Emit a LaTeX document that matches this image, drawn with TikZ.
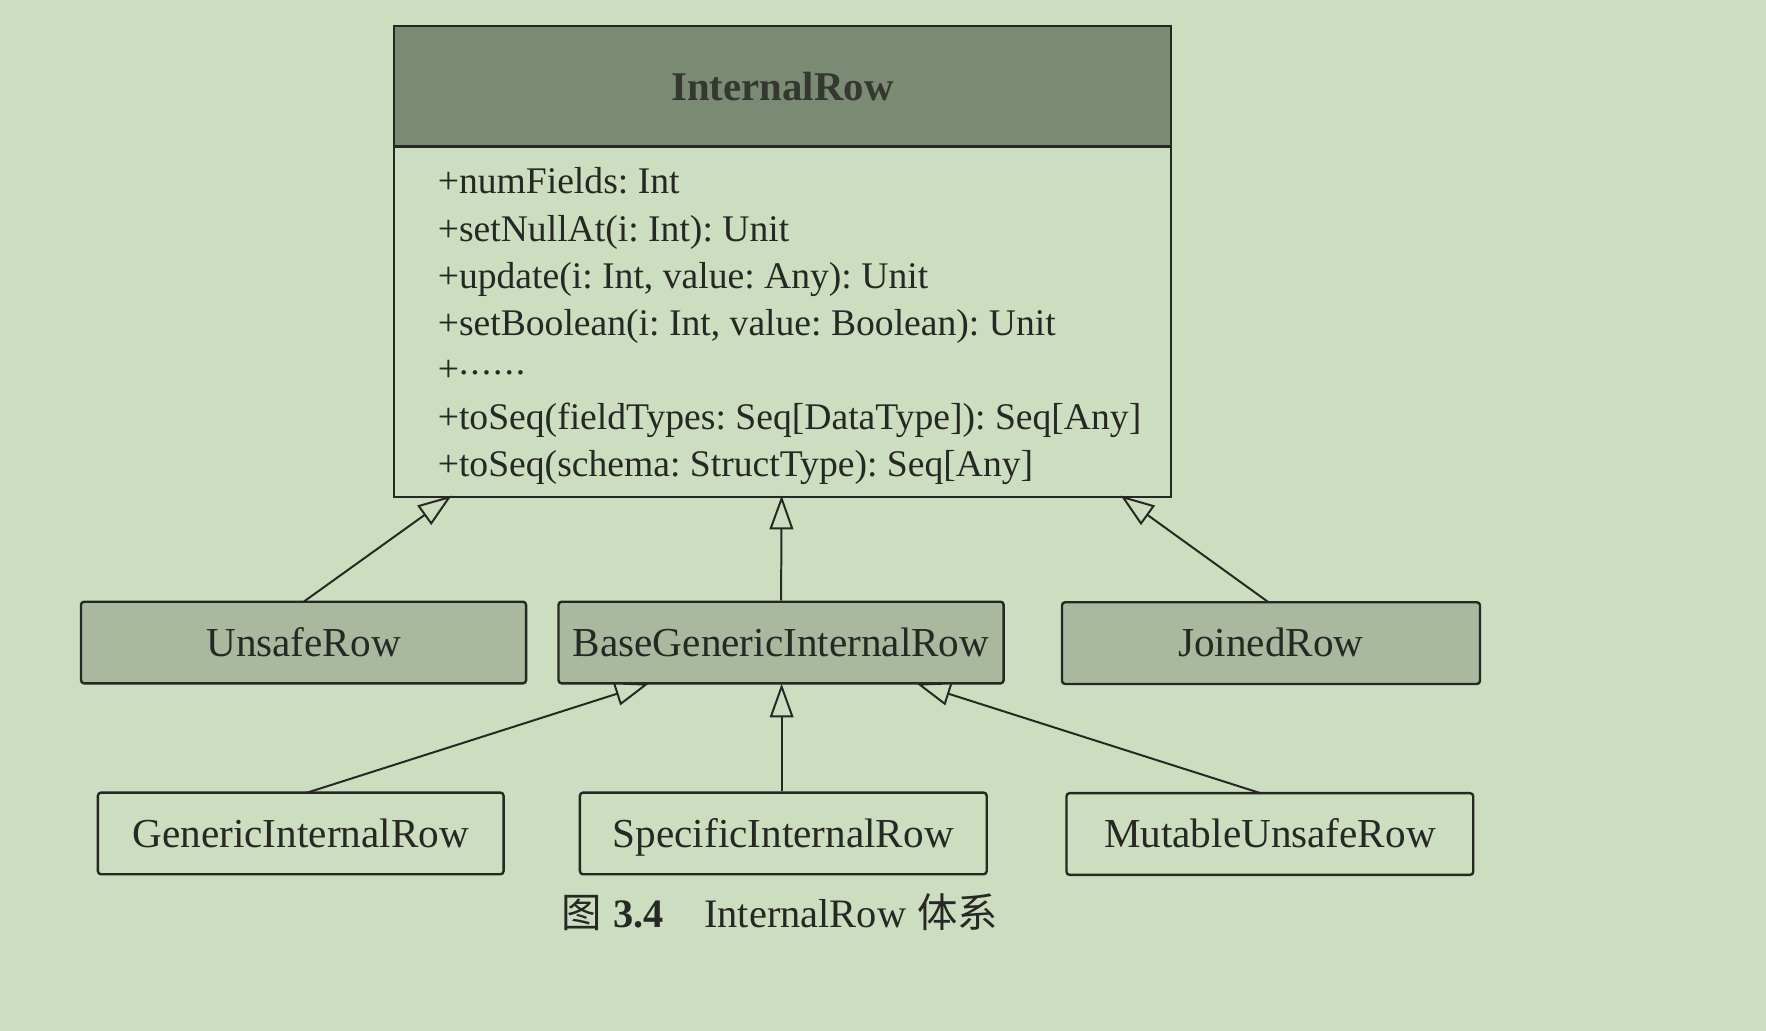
\documentclass[tikz,border=0pt]{standalone}
\usepackage{fontspec}
\setmainfont{Liberation Serif}
\newfontfamily\cjk{Noto Sans CJK SC}
\usetikzlibrary{arrows.meta}
\frenchspacing
\definecolor{bg}{RGB}{205,221,192}
\definecolor{hdrfill}{RGB}{123,138,114}
\definecolor{midfill}{RGB}{170,185,158}
\definecolor{ink}{RGB}{38,40,36}
\definecolor{hdrink}{RGB}{52,56,48}
\newcommand{\mydots}{\raisebox{1.9pt}{.\kern0.5pt.\kern0.5pt.\kern0.5pt.\kern0.5pt.\kern0.5pt.}}
\tikzset{
  cls/.style={draw=ink, line width=0.6pt, rounded corners=0.8pt, inner sep=0pt,
    text=ink, font=\fontsize{10.4}{12}\selectfont, minimum height=0.725cm,
    text height=7pt, text depth=0pt},
  darkcls/.style={cls, fill=midfill},
  lightcls/.style={cls, fill=bg},
  member/.style={anchor=base west, inner sep=0pt, text=ink, font=\fontsize{9.5}{11}\selectfont},
  inh/.style={draw=ink, line width=0.5pt, -{Triangle[length=0.3cm, width=0.21cm, fill=bg, line width=0.5pt]}}
}
\begin{document}
\begin{tikzpicture}[x=0.01cm, y=-0.01cm]
\fill[bg] (0,0) rectangle (1568,915);
\useasboundingbox (0,0) rectangle (1568,915);

% main class box
\node[draw=ink, line width=0.6pt, fill=bg, minimum width=6.89cm, minimum height=4.18cm,
      inner sep=0pt, anchor=north west] (main) at (349,22) {};
\node[draw=ink, line width=0.6pt, fill=hdrfill, minimum width=6.89cm, minimum height=1.07cm,
      inner sep=0pt, anchor=north west, text=hdrink, font=\fontsize{10.3}{12}\selectfont\bfseries]
      (hdr) at (349,22) {InternalRow};

\node[member] (m1) at (388,172) {+numFields: Int};
\node[member] (m2) at (388,214) {+setNullAt(i: Int): Unit};
\node[member] (m3) at (388,256) {+update(i: Int, value: Any): Unit};
\node[member] (m4) at (388,298) {+setBoolean(i: Int, value: Boolean): Unit};
\node[member] (m5) at (388,339) {+\mydots};
\node[member] (m6) at (388,381) {+toSeq(fieldTypes: Seq[DataType]): Seq[Any]};
\node[member] (m7) at (388,423) {+toSeq(schema: StructType): Seq[Any]};

% second level
\node[darkcls, minimum width=3.95cm] (U) at (269.5,570.5) {UnsafeRow};
\node[darkcls, minimum width=3.95cm] (B) at (693.5,570.5) {BaseGenericInternalRow};
\node[darkcls, minimum width=3.71cm] (J) at (1128.5,571) {JoinedRow};

% third level
\node[lightcls, minimum width=3.60cm] (G) at (267,740) {GenericInternalRow};
\node[lightcls, minimum width=3.61cm] (S) at (695.5,740) {SpecificInternalRow};
\node[lightcls, minimum width=3.61cm] (M) at (1127.5,740.5) {MutableUnsafeRow};

% arrow end points
\coordinate (tU) at (401,440);
\coordinate (tB) at (694,440);
\coordinate (tJ) at (995,440);
\coordinate (sU) at (270,534);
\coordinate (sJ) at (1126,534.5);
\coordinate (tG) at (576,607);
\coordinate (tS) at (694,607);
\coordinate (tM) at (814,607);
\coordinate (sG) at (272,704);
\coordinate (sM) at (1120,704.5);

\draw[inh] (sU) -- (tU);
\draw[inh] (B.north) -- (tB);
\draw[inh] (sJ) -- (tJ);
\draw[inh] (sG) -- (tG);
\draw[inh] (S.north -| tS) -- (tS);
\draw[inh] (sM) -- (tM);

% caption
\node[inner sep=0pt, text=ink, font=\fontsize{10.2}{12}\selectfont] (cap) at (692.5,810)
  {{\cjk 图}\hspace{2.8pt}\textbf{3.4}\hspace{1em}InternalRow\hspace{2.8pt}{\cjk 体系}};
\end{tikzpicture}
\end{document}
